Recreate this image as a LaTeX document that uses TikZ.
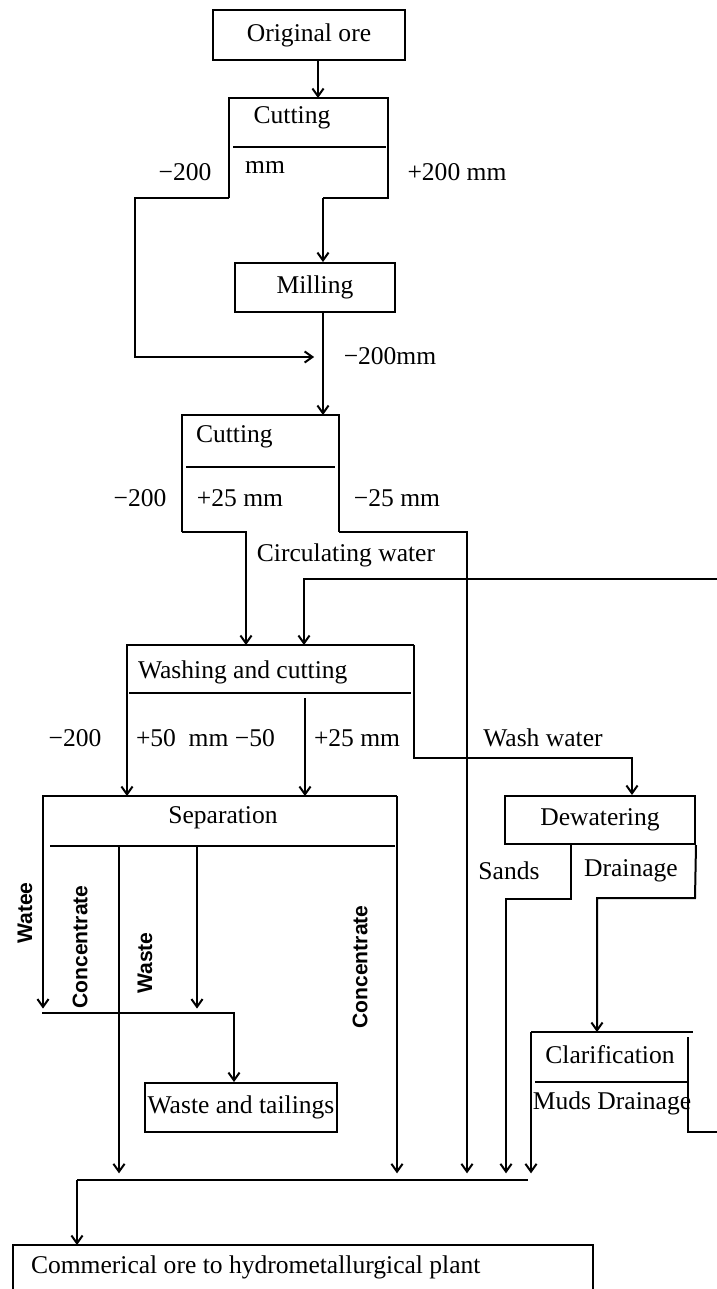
\documentclass[tikz,border=0pt]{standalone}
\usepackage{fontspec}
\setmainfont{Liberation Serif}
\setsansfont{Liberation Sans}
\usetikzlibrary{arrows.meta}
\begin{document}
\begin{tikzpicture}[x=0.45pt, y=-0.45pt, line width=0.9pt, >={Straight Barb[length=3.5pt,width=5pt]},
    box/.style={draw, inner sep=0pt},
    lbl/.style={inner sep=0pt, font=\fontsize{11.5}{13}\selectfont},
    vlbl/.style={inner sep=0pt, rotate=90, font=\sffamily\bfseries\fontsize{9.5}{11}\selectfont},
    tobus/.style={->, shorten >=3pt}]
    \useasboundingbox (0,0) rectangle (717,1289);

    % original ore, first cutting, milling
    \node[box, lbl, minimum width=86.4pt, minimum height=22.5pt] (ore) at (309,35) {Original ore};
    \node[box, lbl, minimum width=72pt, minimum height=22pt] (mill) at (315,287.5) {Milling};

    \coordinate (c1in) at (318,98);
    \coordinate (c1tl) at (229,98);
    \coordinate (c1tr) at (388,98);
    \coordinate (c1bl) at (229,198);
    \coordinate (c1br) at (388,198);
    \coordinate (c1out) at (323,198);
    \coordinate (byp) at (135,357);
    \coordinate (join) at (323,357);
    \coordinate (c2in) at (323,415);

    \draw[->] (ore.south -| c1in) -- (c1in);
    \draw (c1bl) -- (c1tl) -- (c1tr) -- (c1br) -- (c1out);
    \draw (233,147) -- (386,147);
    \draw[->] (c1out) -- (c1out |- mill.north);
    \draw[->] (c1bl) -| (byp) -- ([xshift=-4pt]join);
    \draw[->] (mill.south -| join) -- (c2in);

    \node[lbl] (cut1) at (292,118) {Cutting};
    \node[lbl] (cut1mm) at (265,167) {mm};
    \node[lbl] (cut1m) at (185,172) {−200};
    \node[lbl] (cut1p) at (457,172) {+200 mm};
    \node[lbl] (mill200) at (390,356) {−200mm};

    % second cutting
    \coordinate (c2tl) at (182,415);
    \coordinate (c2tr) at (339,415);
    \coordinate (c2bl) at (182,532);
    \coordinate (c2br) at (339,532);
    \coordinate (fine) at (467,532);
    \coordinate (wash1) at (246,645);
    \coordinate (wash2) at (304,645);
    \coordinate (circR) at (717,579);

    \draw (c2bl) -- (c2tl) -- (c2tr) -- (c2br);
    \draw (186,467) -- (335,467);
    \draw[->] (c2bl) -| (wash1);
    \draw[->] (circR) -| (wash2);

    \node[lbl, anchor=west] (cut2) at (195,437) {Cutting};
    \node[lbl] (cut2m) at (140,498) {−200};
    \node[lbl] (cut2p) at (240,498) {+25 mm};
    \node[lbl] (cut2f) at (397,498) {−25 mm};
    \node[lbl] (circ) at (346,555) {Circulating water};

    % washing and cutting
    \coordinate (wtl) at (127,645);
    \coordinate (wtr) at (414,645);
    \coordinate (wdiv) at (305,698);
    \coordinate (sep1) at (127,796);
    \coordinate (sep2) at (305,796);
    \coordinate (wwc) at (632,758);

    \node[box, lbl, minimum width=85.5pt, minimum height=21.6pt] (dew) at (600,820) {Dewatering};

    \draw[->] (wtr) -- (wtl) -- (sep1);
    \draw (129,693) -- (411,693);
    \draw[->] (wdiv) -- (sep2);
    \draw[->] (wtr) |- (wwc) -- (wwc |- dew.north);

    \node[lbl, anchor=west] (wash) at (137,672) {Washing and cutting};
    \node[lbl] (washm) at (75,738) {−200};
    \node[lbl, anchor=west] (washa) at (135,738) {+50\ \ mm −50};
    \node[lbl, anchor=west] (washb) at (313,738) {+25 mm};
    \node[lbl] (washw) at (543,738) {Wash water};

    % separation
    \coordinate (stl) at (43,796);
    \coordinate (str) at (397,796);
    \coordinate (conc) at (119,846);
    \coordinate (wst) at (197,846);
    \coordinate (tl) at (43,1013);
    \coordinate (tr) at (234,1013);
    \coordinate (busL) at (77,1180);
    \coordinate (busR) at (528,1180);

    \node[box, lbl, minimum width=86.4pt, minimum height=22pt] (tail) at (241,1107.5) {Waste and tailings};

    \draw[->, shorten >=2pt] (str) -- (stl) -- (tl);
    \draw (50,846) -- (395,846);
    \draw[tobus] (conc) -- (conc |- busL);
    \draw[->, shorten >=2pt] (wst) -- (wst |- tl);
    \draw[->] (42,1013) -- (tr) -- (tr |- tail.north);
    \draw[tobus] (str) -- (str |- busL);
    \draw[tobus] (fine -| c2br) -- (fine) -- (fine |- busL);

    \node[lbl] (sep) at (223,818) {Separation};
    \node[vlbl] (watee) at (25,913) {Watee};
    \node[vlbl] (conc1) at (80,947) {Concentrate};
    \node[vlbl] (waste) at (145,963) {Waste};
    \node[vlbl] (conc2) at (360,967) {Concentrate};

    % dewatering and clarification
    \coordinate (dr) at (695,898);
    \coordinate (drain) at (597,898);
    \coordinate (dsplit) at (571,899);
    \coordinate (sands) at (506,899);
    \coordinate (clt) at (531,1032);
    \coordinate (crt) at (693,1032);
    \coordinate (cr) at (688,1037);
    \coordinate (crb) at (688,1132);
    \coordinate (clout) at (717,1132);

    \draw[->] (dew.south east) -- (dr) -- (drain) -- (drain |- clt);
    \draw[tobus] (dsplit |- dew.south) -- (dsplit) -- (sands) -- (sands |- busL);
    \draw (clt) -- (crt);
    \draw (cr) -- (crb) -- (clout);
    \draw (535,1082) -- (687,1082);
    \draw[tobus] (clt) -- (clt |- busL);

    \node[lbl] (sand) at (509,871) {Sands};
    \node[lbl] (drainl) at (631,871) {Drainage};
    \node[lbl] (clar) at (610,1055) {Clarification};
    \node[lbl] (muds) at (612,1103) {Muds Drainage};

    % product
    \coordinate (prod) at (77,1245);
    \coordinate (pl) at (13,1245);
    \coordinate (pr) at (593,1245);

    \draw (busL) -- (busR);
    \draw[->] (busL) -- (prod);
    \draw (13,1289) -- (pl) -- (pr) -- (593,1289);
    \node[lbl, anchor=west] (comm) at (30,1267) {Commerical ore to hydrometallurgical plant};
\end{tikzpicture}
\end{document}
